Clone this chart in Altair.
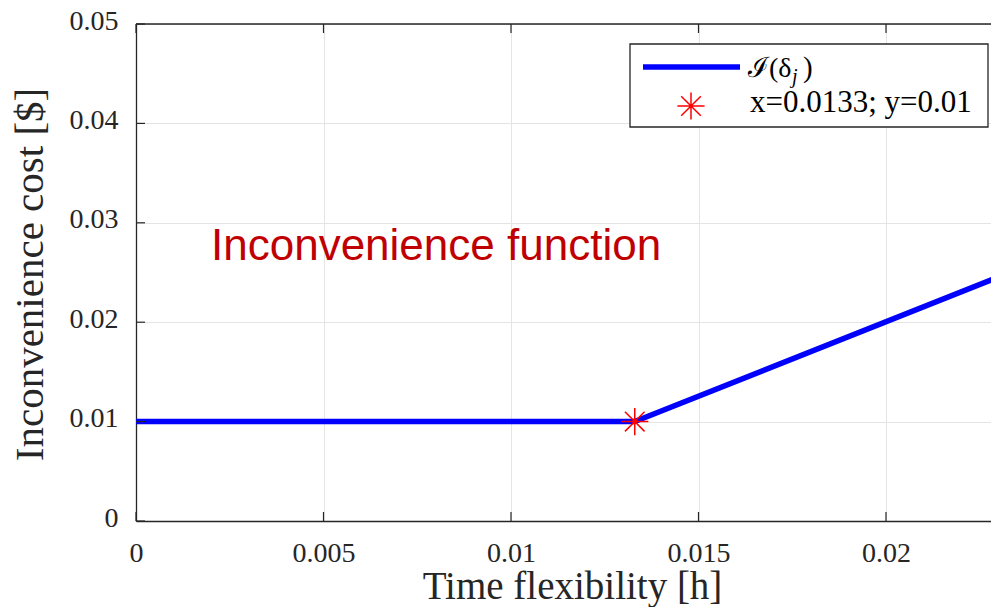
import altair as alt
import pandas as pd

# ---- data ----
x_vals = [0.0, 0.0133, 0.023]
y_vals = [0.01, 0.01, 0.02455]
marker_x = [0.0133]
marker_y = [0.01]
x_ticks = [0, 0.005, 0.01, 0.015, 0.02]
y_ticks = [0, 0.01, 0.02, 0.03, 0.04, 0.05]
ann_text = ["Inconvenience function"]
ann_x = [0.002]
ann_y = [0.0263]
legend_main = ["ℐ(δ"]
legend_sub = ["j"]
legend_close = [")"]
legend_marker = ["x=0.0133; y=0.01"]

W, H = 855, 497
AX = "#262626"
SERIF = "Liberation Serif"
STAR = "M-1,0L1,0M0,-1L0,1M-0.72,-0.72L0.72,0.72M-0.72,0.72L0.72,-0.72"

xs = alt.Scale(domain=[0, 0.0228], nice=False, zero=False)
ys = alt.Scale(domain=[0, 0.05], nice=False, zero=False)

x_axis = alt.Axis(values=x_ticks, format="~g", grid=True, gridColor="#e4e4e4",
                  ticks=False, domain=True, domainColor=AX, domainWidth=1.3,
                  labelFont=SERIF, labelFontSize=28,
                  labelColor=AX, labelPadding=18, labelFlush=False, labelOverlap=False,
                  title="Time flexibility [h]", titleFont=SERIF, titleFontSize=39,
                  titleFontWeight="normal", titleColor=AX, titleX=436, titleY=77,
                  titleBaseline="alphabetic", titleAlign="center")
y_axis = alt.Axis(values=y_ticks, format="~g", grid=True, gridColor="#e4e4e4",
                  ticks=False, domain=True, domainColor=AX, domainWidth=1.3,
                  labelFont=SERIF, labelFontSize=28, labelOffset=-3,
                  labelColor=AX, labelPadding=18, labelFlush=False, labelOverlap=False,
                  title="Inconvenience cost [$]", titleFont=SERIF, titleFontSize=41,
                  titleFontWeight="normal", titleColor=AX, titleAngle=270,
                  titleX=-94, titleY=250, titleBaseline="alphabetic", titleAlign="center")

df_line = pd.DataFrame({"x": x_vals, "y": y_vals})
df_mark = pd.DataFrame({"x": marker_x, "y": marker_y})
df_xt = pd.DataFrame({"x": x_ticks})
df_yt = pd.DataFrame({"y": y_ticks})
df_ann = pd.DataFrame({"x": ann_x, "y": ann_y, "t": ann_text})
one = pd.DataFrame({"a": [0]})

line = alt.Chart(df_line).mark_line(color="#0000ff", strokeWidth=5.5, clip=True).encode(
    x=alt.X("x:Q", scale=xs, axis=x_axis),
    y=alt.Y("y:Q", scale=ys, axis=y_axis),
)

top_border = alt.Chart(one).mark_rule(color=AX, strokeWidth=1.3).encode(
    x=alt.value(0), x2=alt.value(W + 10), y=alt.value(0))

xt_bot = alt.Chart(df_xt).mark_rule(color=AX, strokeWidth=1.2).encode(
    x=alt.X("x:Q", scale=xs), y=alt.value(H), y2=alt.value(H - 9))
xt_top = alt.Chart(df_xt).mark_rule(color=AX, strokeWidth=1.2).encode(
    x=alt.X("x:Q", scale=xs), y=alt.value(0), y2=alt.value(9))
yt_left = alt.Chart(df_yt).mark_rule(color=AX, strokeWidth=1.2).encode(
    y=alt.Y("y:Q", scale=ys), x=alt.value(0), x2=alt.value(9))

star = alt.Chart(df_mark).mark_point(shape=STAR, size=740, color="#ff0000",
                                     strokeWidth=1.5, filled=False, opacity=1).encode(
    x=alt.X("x:Q", scale=xs), y=alt.Y("y:Q", scale=ys))

ann = alt.Chart(df_ann).mark_text(font="Liberation Sans", fontSize=44, color="#c00000",
                                  align="left", baseline="alphabetic").encode(
    x=alt.X("x:Q", scale=xs), y=alt.Y("y:Q", scale=ys), text="t:N")

# legend (drawn manually)
leg_box = alt.Chart(one).mark_rect(fill="white", stroke=AX, strokeWidth=1.3).encode(
    x=alt.value(494), x2=alt.value(852), y=alt.value(20), y2=alt.value(103))
leg_line = alt.Chart(one).mark_rule(color="#0000ff", strokeWidth=5.5).encode(
    x=alt.value(507), x2=alt.value(604), y=alt.value(43))
leg_star = alt.Chart(one).mark_point(shape=STAR, size=740, color="#ff0000",
                                     strokeWidth=1.5, filled=False, opacity=1).encode(
    x=alt.value(555), y=alt.value(82))
leg_t1 = alt.Chart(pd.DataFrame({"t": legend_main})).mark_text(
    font=SERIF, fontSize=28, color="black", align="left", baseline="alphabetic").encode(
    x=alt.value(612), y=alt.value(53), text="t:N")
leg_t1s = alt.Chart(pd.DataFrame({"t": legend_sub})).mark_text(
    font=SERIF, fontSize=20, fontStyle="italic", color="black", align="left",
    baseline="alphabetic").encode(x=alt.value(656), y=alt.value(59), text="t:N")
leg_t1c = alt.Chart(pd.DataFrame({"t": legend_close})).mark_text(
    font=SERIF, fontSize=29, color="black", align="left", baseline="alphabetic").encode(
    x=alt.value(667), y=alt.value(53), text="t:N")
leg_t2 = alt.Chart(pd.DataFrame({"t": legend_marker})).mark_text(
    font=SERIF, fontSize=31, color="black", align="left", baseline="alphabetic").encode(
    x=alt.value(614), y=alt.value(88), text="t:N")

chart = alt.layer(
    line, top_border, xt_bot, xt_top, yt_left, star, ann,
    leg_box, leg_line, leg_star, leg_t1, leg_t1s, leg_t1c, leg_t2,
).properties(
    width=W, height=H,
    autosize=alt.AutoSizeParams(type="none"),
    padding={"left": 128, "top": 16, "right": 0, "bottom": 86},
    background="white",
).configure_view(strokeWidth=0)

chart.save("out.html", embed_options={"renderer": "svg", "actions": False})
